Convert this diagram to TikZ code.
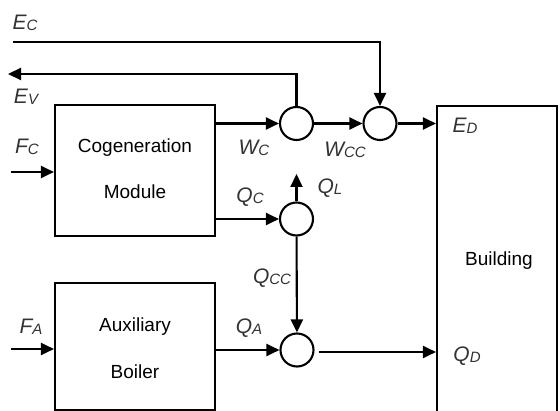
\documentclass[tikz,border=0pt]{standalone}
\usepackage{fontspec}
\setmainfont{Liberation Sans}
\usetikzlibrary{arrows.meta}
\newcommand\flowlab[2]{{\fontsize{21}{22}\selectfont\itshape #1}{\fontsize{15}{16}\selectfont\itshape\raisebox{-1.2pt}{#2}}}
\begin{document}
\begin{tikzpicture}[x=1pt,y=-1pt,
  line/.style={line width=2.1pt},
  flow/.style={line, -{Triangle[length=13pt,width=12pt]}},
  junction/.style={circle, draw, line width=2.1pt, minimum size=33pt, inner sep=0pt},
  unitbox/.style={draw, line width=2.1pt, minimum width=160pt, inner sep=0pt},
  lab/.style={text=black!80, inner sep=0pt},
  body/.style={font=\fontsize{19}{20}\selectfont, inner sep=0pt}]
\useasboundingbox (0,0) rectangle (560,411);
\clip (0,0) rectangle (560,411);
% boxes
\node[unitbox, minimum height=131pt] (cogen) at (135,170.5) {};
\node[unitbox, minimum height=127pt] (aux) at (135,346.5) {};
\node[draw, line width=2.1pt, minimum width=120pt, minimum height=340pt, inner sep=0pt] (bld) at (497,276) {};
% box texts
\node[body] (tcogen) at (135,148) {Cogeneration};
\node[body] (tmod) at (135,192) {Module};
\node[body] (taux) at (135,327) {Auxiliary};
\node[body] (tboil) at (135,372) {Boiler};
\node[body] (tbld) at (499,261) {Building};
% junctions
\node[junction] (c1) at (296.5,123.5) {};
\node[junction] (c2) at (380,123.5) {};
\node[junction] (c3) at (296.5,219) {};
\node[junction] (c4) at (297,350) {};
% free ends
\coordinate (ecstart) at (13,42);
\coordinate (evend) at (8,74);
\coordinate (fcstart) at (11,172);
\coordinate (fastart) at (11,349);
\coordinate (qlend) at (296.5,174);
% connectors
\draw[flow] (ecstart) -| (c2);
\draw[flow] (c1) |- (evend);
\draw[flow] (fcstart) -- (fcstart -| cogen.west);
\draw[flow] (cogen.east |- c1) -- (c1);
\draw[flow] (c1) -- (c2);
\draw[flow] (c2) -- (bld.west |- c2);
\draw[flow] (cogen.east |- c3) -- (c3);
\draw[flow] (c3) -- (qlend);
\draw[flow] (c3) -- (c4);
\draw[flow] (fastart) -- (fastart -| aux.west);
\draw[flow] (aux.east |- c4) -- (c4);
\draw[flow] (c4.east) ++(4,2) coordinate (c4out) -- (bld.west |- c4out);
% labels
\node[lab] (lec) at (25,23) {\flowlab{E}{C}};
\node[lab] (lev) at (26,97) {\flowlab{E}{V}};
\node[lab] (lfc) at (27,147) {\flowlab{F}{C}};
\node[lab] (lwc) at (254,148) {\flowlab{W}{C}};
\node[lab] (lwcc) at (345,150) {\flowlab{W}{CC}};
\node[lab] (lqc) at (250,197) {\flowlab{Q}{C}};
\node[lab] (lql) at (330,188) {\flowlab{Q}{L}};
\node[lab] (lqcc) at (272,278) {\flowlab{Q}{CC}};
\node[lab] (lqa) at (249,328) {\flowlab{Q}{A}};
\node[lab] (lfa) at (31,327) {\flowlab{F}{A}};
\node[lab] (led) at (465,126) {\flowlab{E}{D}};
\node[lab] (lqd) at (467,356) {\flowlab{Q}{D}};
\end{tikzpicture}
\end{document}
